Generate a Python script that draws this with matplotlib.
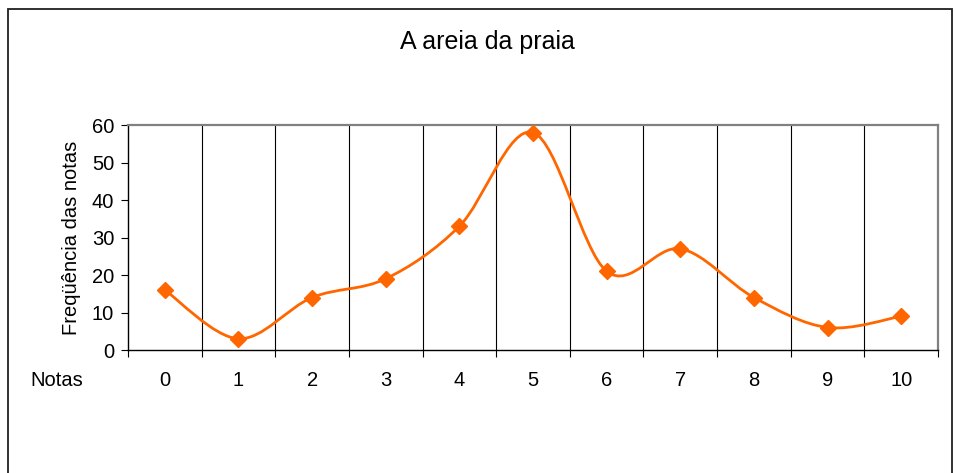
import matplotlib
matplotlib.use("Agg")
import matplotlib.pyplot as plt
from matplotlib.path import Path
from matplotlib.patches import PathPatch, Rectangle
import numpy as np

plt.rcParams['font.family'] = ['Liberation Sans', 'DejaVu Sans']

notas = [0, 1, 2, 3, 4, 5, 6, 7, 8, 9, 10]
frequencia = [16, 3, 14, 19, 33, 58, 21, 27, 14, 6, 9]
cor = '#FF6600'


def smooth_path(xs, ys):
    # bezier segments like the spreadsheet "smoothed line"
    pts = np.column_stack([xs, ys]).astype(float)
    verts = [pts[0]]
    codes = [Path.MOVETO]
    n = len(pts)
    for i in range(n - 1):
        p0 = pts[i - 1] if i > 0 else pts[i]
        p1 = pts[i]
        p2 = pts[i + 1]
        p3 = pts[i + 2] if i + 2 < n else pts[i + 1]
        c1 = p1 + (p2 - p0) / 6.0
        c2 = p2 - (p3 - p1) / 6.0
        verts += [c1, c2, p2]
        codes += [Path.CURVE4] * 3
    return Path(verts, codes)


fig = plt.figure(figsize=(9.56, 4.73), dpi=100)
ax = fig.add_axes([128 / 956, 1 - 350 / 473, (938 - 128) / 956, 225 / 473])

# moldura do gráfico
fig.patches.append(Rectangle((8 / 956, -0.05), 944 / 956, 1.05 - 9 / 473,
                             transform=fig.transFigure, fill=False,
                             edgecolor='#202020', linewidth=1.3))

ax.set_xlim(-0.5, 10.5)
ax.set_ylim(0, 60)

for b in np.arange(0.5, 10, 1):
    ax.axvline(b, color='black', linewidth=0.8, zorder=1)

ax.add_patch(PathPatch(smooth_path(notas, frequencia), facecolor='none',
                       edgecolor=cor, linewidth=2.0, zorder=3))
ax.plot(notas, frequencia, linestyle='none', marker='D', markersize=8.5,
        color=cor, zorder=4)

fs = 14.5
ax.set_xticks(np.arange(-0.5, 11, 1))
ax.set_xticklabels([])
ax.set_xticks(notas, minor=True)
ax.set_xticklabels([str(n) for n in notas], minor=True)
ax.tick_params(axis='x', which='major', direction='out', length=5, width=0.8)
ax.tick_params(axis='x', which='minor', length=0, pad=15, labelsize=fs)
ax.set_yticks(range(0, 61, 10))
ax.tick_params(axis='y', direction='out', length=5, width=0.8, labelsize=fs, pad=5)

for s in ['top', 'right']:
    ax.spines[s].set_color('#808080')
    ax.spines[s].set_linewidth(1.6)
for s in ['left', 'bottom']:
    ax.spines[s].set_color('black')
    ax.spines[s].set_linewidth(1.0)

ax.set_ylabel('Freqüência das notas', fontsize=fs, labelpad=8)
fig.text(57 / 956, 1 - 380 / 473, 'Notas', ha='center', va='center', fontsize=fs)
fig.text(487 / 956, 1 - 42 / 473, 'A areia da praia', ha='center', va='center', fontsize=18)

fig.savefig('out.png', dpi=100)
